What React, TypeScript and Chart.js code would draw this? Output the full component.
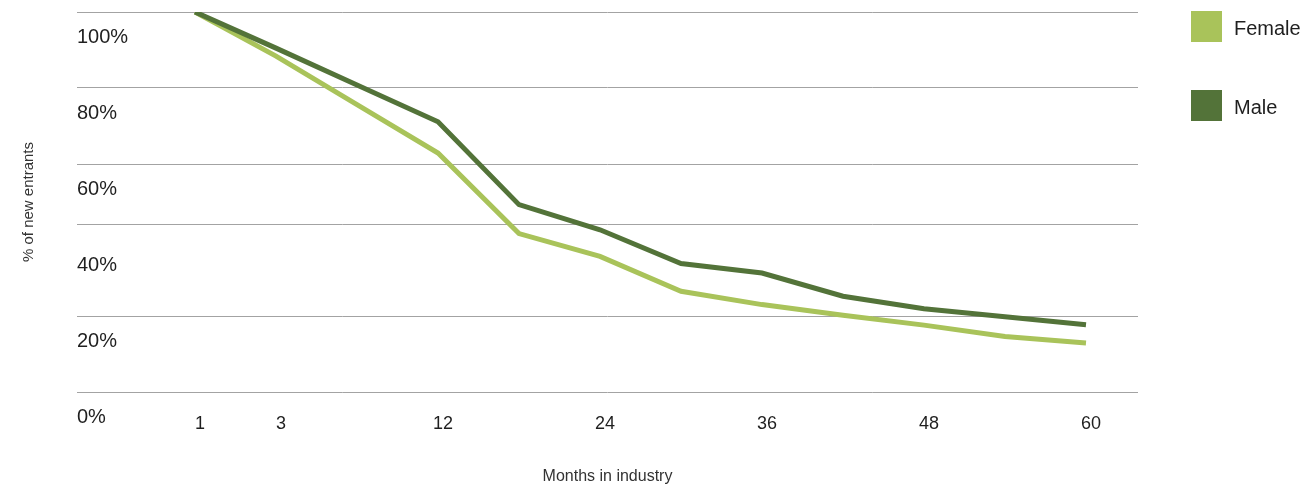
import React, { useEffect, useRef } from 'react';
import { Chart, registerables } from 'chart.js';

Chart.register(...registerables);

// ---- data ----
const months = ['1', '3', '6', '12', '18', '24', '30', '36', '42', '48', '54', '60'];
const femaleValues = [100, 88.4, 75.6, 62.9, 41.7, 35.7, 26.5, 23.0, 20.2, 17.6, 14.6, 12.9];
const maleValues = [100, 90.5, 80.8, 71.1, 49.3, 42.7, 33.8, 31.3, 25.2, 21.9, 19.8, 17.7];
const xTickLabels = ['1', '3', '12', '24', '36', '48', '60'];
const yTickValues = [0, 20, 40, 60, 80, 100];
const gridValues = [0, 20, 44.2, 60, 80, 100];

const FEMALE_COLOR = '#a9c35a';
const MALE_COLOR = '#537339';
const FONT = "'Liberation Sans', Arial, sans-serif";

const legendItems = [
  { label: 'Female', color: FEMALE_COLOR },
  { label: 'Male', color: MALE_COLOR },
];

export default function App() {
  const canvasRef = useRef<HTMLCanvasElement | null>(null);

  useEffect(() => {
    const canvas = canvasRef.current;
    if (!canvas) return;
    const chart = new Chart(canvas, {
      type: 'line',
      data: {
        datasets: [
          {
            label: 'Female',
            data: femaleValues.map((v, i) => ({ x: i, y: v })),
            borderColor: FEMALE_COLOR,
            backgroundColor: FEMALE_COLOR,
            borderWidth: 5,
            pointRadius: 0,
            tension: 0,
            order: 1,
            yAxisID: 'y',
          },
          {
            label: 'Male',
            data: maleValues.map((v, i) => ({ x: i, y: v })),
            borderColor: MALE_COLOR,
            backgroundColor: MALE_COLOR,
            borderWidth: 5,
            pointRadius: 0,
            tension: 0,
            order: 0,
            yAxisID: 'y',
          },
        ],
      },
      options: {
        responsive: false,
        animation: false,
        layout: { padding: { top: 12, right: 172, bottom: 0, left: 0 } },
        plugins: {
          legend: { display: false },
          tooltip: { enabled: false },
        },
        scales: {
          x: {
            type: 'linear',
            min: -1.457,
            max: 11.642,
            afterBuildTicks: (s: any) => {
              s.ticks = xTickLabels.map((l) => ({ value: months.indexOf(l) }));
            },
            afterFit: (s: any) => {
              s.height = 99;
            },
            grid: { display: false },
            border: { display: false },
            ticks: {
              autoSkip: false,
              maxRotation: 0,
              padding: 13,
              labelOffset: 5,
              callback: (v: any) => months[Math.round(Number(v))],
              font: { family: FONT, size: 18 },
              color: '#1f1f1f',
            },
            title: {
              display: true,
              text: 'Months in industry',
              padding: { top: 0, bottom: 5 },
              font: { family: FONT, size: 16 },
              color: '#333333',
            },
          },
          y: {
            type: 'linear',
            position: 'left',
            min: 0,
            max: 100,
            afterBuildTicks: (s: any) => {
              s.ticks = yTickValues.map((v) => ({ value: v }));
            },
            afterFit: (s: any) => {
              s.width = 77;
            },
            grid: { display: false },
            border: { display: false },
            ticks: {
              mirror: true,
              padding: 0,
              labelOffset: 25,
              callback: (v: any) => v + '%',
              font: { family: FONT, size: 20 },
              color: '#1f1f1f',
            },
            title: {
              display: true,
              text: '% of new entrants',
              padding: { top: 20, bottom: 0 },
              font: { family: FONT, size: 15 },
              color: '#333333',
            },
          },
          yGrid: {
            type: 'linear',
            position: 'left',
            min: 0,
            max: 100,
            afterBuildTicks: (s: any) => {
              s.ticks = gridValues.map((v) => ({ value: v }));
            },
            afterFit: (s: any) => {
              s.width = 0;
            },
            ticks: { display: false },
            grid: { color: '#a3a3a3', lineWidth: 1, drawTicks: false },
            border: { display: false },
          },
        },
      } as any,
    });
    return () => chart.destroy();
  }, []);

  return (
    <div style={{ position: 'absolute', left: 0, top: 0, width: 1310, height: 491, background: '#ffffff' }}>
      <canvas ref={canvasRef} width={1310} height={491} style={{ width: 1310, height: 491, display: 'block' }} />
      <div style={{ position: 'absolute', left: 1191, top: 11 }}>
        {legendItems.map((it) => (
          <div key={it.label} style={{ height: 31, marginBottom: 48, display: 'flex', alignItems: 'center' }}>
            <span style={{ display: 'inline-block', width: 31, height: 31, background: it.color }} />
            <span
              style={{
                marginLeft: 12,
                position: 'relative',
                top: 2,
                fontFamily: FONT,
                fontSize: 20,
                color: '#1f1f1f',
                whiteSpace: 'nowrap',
              }}
            >
              {it.label}
            </span>
          </div>
        ))}
      </div>
    </div>
  );
}
